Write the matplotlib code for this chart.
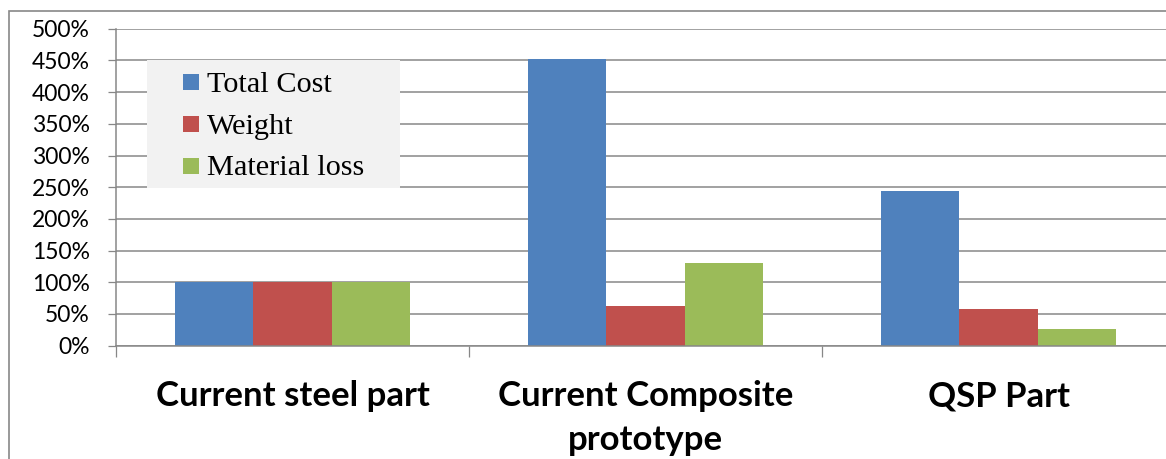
import matplotlib
matplotlib.use("Agg")
import matplotlib.pyplot as plt
from matplotlib.patches import Rectangle
import numpy as np

# --- data -------------------------------------------------------------
categories = ["Current steel part", "Current Composite\nprototype", "QSP Part"]
series_names = ["Total Cost", "Weight", "Material loss"]
total_cost = [100, 452, 244]
weight = [100, 62, 58]
material_loss = [100, 130, 27]
y_ticks = [0, 50, 100, 150, 200, 250, 300, 350, 400, 450, 500]

colors = ["#4F81BD", "#C0504D", "#9BBB59"]
grid_color = "#878787"

W, H = 1166, 459
fig = plt.figure(figsize=(W / 100, H / 100), dpi=100)
fig.patch.set_facecolor("white")


def fx(px):
    return px / W


def fy(py):
    return 1 - py / H


# outer chart-area border (runs off the right and bottom edges)
fig.patches.append(Rectangle((fx(9), fy(600)), fx(1300), fy(11) - fy(600),
                             transform=fig.transFigure, fill=False,
                             edgecolor=grid_color, lw=1.2, zorder=0))

# plot area: 3 category slots of equal width
ax = fig.add_axes([fx(116), fy(345.7), fx(1059), (345.7 - 28.7) / H])
ax.set_xlim(-0.5, 2.5)
ax.set_ylim(0, 500)

x = np.arange(len(categories))
bw = 0.222
for i, (vals, c) in enumerate(zip([total_cost, weight, material_loss], colors)):
    ax.bar(x + (i - 1) * bw, vals, width=bw, color=c, edgecolor="none",
           zorder=3, label=series_names[i])

# y axis
ax.set_yticks(y_ticks)
ax.set_yticklabels([f"{v}%" for v in y_ticks], fontfamily="Lato", fontsize=16.5)
ax.tick_params(axis="y", direction="out", length=5.8, width=0.9,
               color=grid_color, pad=13)
ax.yaxis.grid(True, color=grid_color, lw=1.1)
ax.set_axisbelow(True)

# x axis: tick marks between categories, labels centred on categories
ax.set_xticks([-0.5, 0.5, 1.5, 2.5])
ax.set_xticklabels([])
ax.set_xticks(x, minor=True)
ax.set_xticklabels(categories, minor=True, fontfamily="Lato",
                   fontweight="bold", fontsize=25, linespacing=1.45)
ax.tick_params(axis="x", which="major", direction="out", length=8,
               width=0.9, color=grid_color)
ax.tick_params(axis="x", which="minor", length=0, pad=25)

for side in ["top", "right"]:
    ax.spines[side].set_visible(False)
for side in ["left", "bottom"]:
    ax.spines[side].set_color(grid_color)
    ax.spines[side].set_linewidth(1.1)
    ax.spines[side].set_zorder(4)

# legend box
fig.patches.append(Rectangle((fx(147), fy(188)), fx(400) - fx(147),
                             fy(60) - fy(188), transform=fig.transFigure,
                             facecolor="#F2F2F2", edgecolor="none", zorder=5))
baselines = [91.7, 133.5, 175.3]
for name, c, b in zip(series_names, colors, baselines):
    fig.patches.append(Rectangle((fx(183), fy(b - 1.7)), fx(16), 16 / H,
                                 transform=fig.transFigure, facecolor=c,
                                 edgecolor="none", zorder=6))
    fig.text(fx(207), fy(b), name, fontfamily="Liberation Serif",
             fontsize=21.8, va="baseline", ha="left", zorder=7)

fig.savefig("out.png", dpi=100)
